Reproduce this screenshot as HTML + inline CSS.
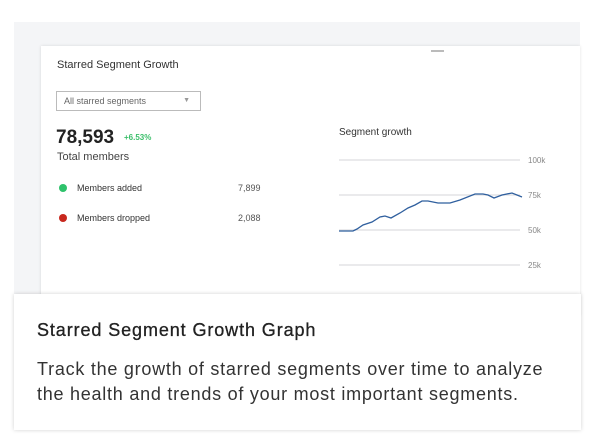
<!DOCTYPE html><html><head><style>
body{margin:0;width:600px;height:444px;background:#fff;font-family:"Liberation Sans",sans-serif;position:relative;overflow:hidden}
.a{position:absolute;white-space:nowrap}
</style></head><body>
<div class="a" style="left:14px;top:22px;width:566px;height:290px;background:#f4f5f7"></div>
<div class="a" style="left:41px;top:46px;width:539px;height:270px;background:#fff;box-shadow:0 0 3px rgba(0,0,0,.12)"></div>
<div class="a" style="left:431px;top:50px;width:13px;height:2px;background:#bbb"></div>
<div class="a" style="left:57px;top:59px;font-size:11px;color:#333">Starred Segment Growth</div>
<div class="a" style="left:56px;top:91px;border:1px solid #bbb;font-size:9px;color:#666;line-height:18px;padding-left:7px;box-sizing:border-box;width:145px;height:20px">All starred segments<span style="position:absolute;right:10px;top:0;font-size:7px;color:#999">▼</span></div>
<div class="a" style="left:56px;top:127px;font-size:19px;font-weight:bold;color:#222">78,593</div>
<div class="a" style="left:124px;top:133px;font-size:8px;color:#3bbf6a;font-weight:bold">+6.53%</div>
<div class="a" style="left:57px;top:151px;font-size:11px;color:#444">Total members</div>
<div class="a" style="left:59px;top:184px;width:8px;height:8px;border-radius:50%;background:#2ec26b"></div>
<div class="a" style="left:77px;top:183px;font-size:9px;color:#333">Members added</div>
<div class="a" style="left:238px;top:183px;font-size:9px;color:#555">7,899</div>
<div class="a" style="left:59px;top:214px;width:8px;height:8px;border-radius:50%;background:#c8281e"></div>
<div class="a" style="left:77px;top:213px;font-size:9px;color:#333">Members dropped</div>
<div class="a" style="left:238px;top:213px;font-size:9px;color:#555">2,088</div>
<div class="a" style="left:339px;top:127px;font-size:10px;color:#333">Segment growth</div>
<svg class="a" style="left:0;top:0" width="600" height="444">
<g stroke="#e3e4e6" stroke-width="1.5"><line x1="339" y1="160" x2="520" y2="160"/><line x1="339" y1="195" x2="520" y2="195"/><line x1="339" y1="230" x2="520" y2="230"/><line x1="339" y1="265" x2="520" y2="265"/></g>
<g font-size="8" fill="#888" font-family="Liberation Sans"><text x="528" y="163">100k</text><text x="528" y="198">75k</text><text x="528" y="233">50k</text><text x="528" y="268">25k</text></g>
<polyline fill="none" stroke="#2f5f9e" stroke-width="1.3" points="339,231 353,231 357,229 363,225 372,222 380,217 385,216 391,218 400,213 408,208 415,205 422,201 428,201 438,203 450,203 460,200 475,194 483,194 488,195 494,198 502,195 512,193 522,197"/>
</svg>
<div class="a" style="left:14px;top:294px;width:567px;height:136px;background:#fff;box-shadow:0 0 4px rgba(0,0,0,.18)"></div>
<div class="a" style="left:37px;top:320px;font-size:18px;letter-spacing:0.9px;color:#222;-webkit-text-stroke:0.3px #222">Starred Segment Growth Graph</div>
<div class="a" style="left:37px;top:357px;font-size:18px;letter-spacing:0.75px;color:#333;line-height:25px;white-space:normal;width:530px">Track the growth of starred segments over time to analyze the health and trends of your most important segments.</div>
</body></html>
